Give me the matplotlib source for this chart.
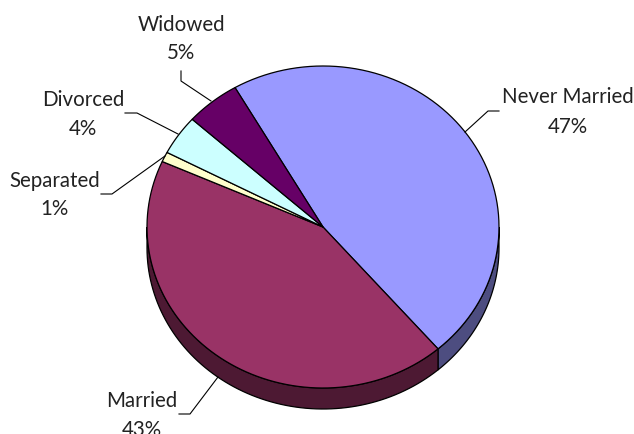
#!/usr/bin/env python3
"""3D-looking pie of marital status"""
import numpy as np
import matplotlib
matplotlib.use('Agg')
import matplotlib.pyplot as plt
from matplotlib.patches import Polygon

categories = ['Never Married', 'Married', 'Separated', 'Divorced', 'Widowed']
values = [47, 43, 1, 4, 5]
labels_pct = ['47%', '43%', '1%', '4%', '5%']
top_colors = ['#9999FF', '#993366', '#FFFFCC', '#CCFFFF', '#660066']
side_colors = ['#4D4D80', '#4D1933', '#808066', '#668080', '#330033']

plt.rcParams['font.family'] = ['Lato', 'DejaVu Sans']

W, H = 634, 435
fig = plt.figure(figsize=(W / 100, H / 100), dpi=100)
ax = fig.add_axes([0, 0, 1, 1])
ax.set_xlim(0, W)
ax.set_ylim(H, 0)
ax.axis('off')

cx, cy = 323, 228
rx, ry = 176, 161
depth = 21
start_deg = 120  # angle of the first slice edge, slices run clockwise


def pts(a1, a2, dy=0):
    t = np.radians(np.linspace(a1, a2, 80))
    return np.column_stack([cx + rx * np.cos(t), cy + dy - ry * np.sin(t)])


edges = start_deg - np.cumsum([0] + values) * 3.6

# side wall first
for i in range(len(values)):
    lo, hi = max(edges[i + 1], -180), min(edges[i], 0)
    if lo < hi:
        ax.add_patch(Polygon(np.vstack([pts(hi, lo), pts(lo, hi, depth)]), closed=True,
                             fc=side_colors[i], ec='black', lw=0.9, zorder=2))

# top face
for i in range(len(values)):
    arc = pts(edges[i], edges[i + 1])
    ax.add_patch(Polygon(np.vstack([[cx, cy], arc]), closed=True, fc=top_colors[i],
                         ec='black', lw=0.9, zorder=3))

# x centre, name baseline, percent baseline (the 43% runs off the bottom in the original)
text_pos = [(568, 103, 133), (142, 407, 436), (55, 187, 215), (83, 106, 135), (181, 31, 59)]
leaders = [
    [(499, 112), (488, 112), (465, 133)],
    [(179, 415), (190, 415), (218, 378)],
    [(101, 195), (112, 195), (165, 157)],
    [(125, 114), (137, 114), (178, 135)],
    [(181, 72), (181, 82), (211, 102)],
]
for i, name in enumerate(categories):
    x, y1, y2 = text_pos[i]
    ax.text(x, y1, name, ha='center', va='baseline', fontsize=14.8,
            color='#222222', zorder=5)
    ax.text(x, y2, labels_pct[i], ha='center', va='baseline', fontsize=14.8,
            color='#222222', zorder=5, clip_on=False)
    ax.plot(*zip(*leaders[i]), color='black', lw=0.8, zorder=4)

plt.savefig('out.png', dpi=100)
plt.close()
